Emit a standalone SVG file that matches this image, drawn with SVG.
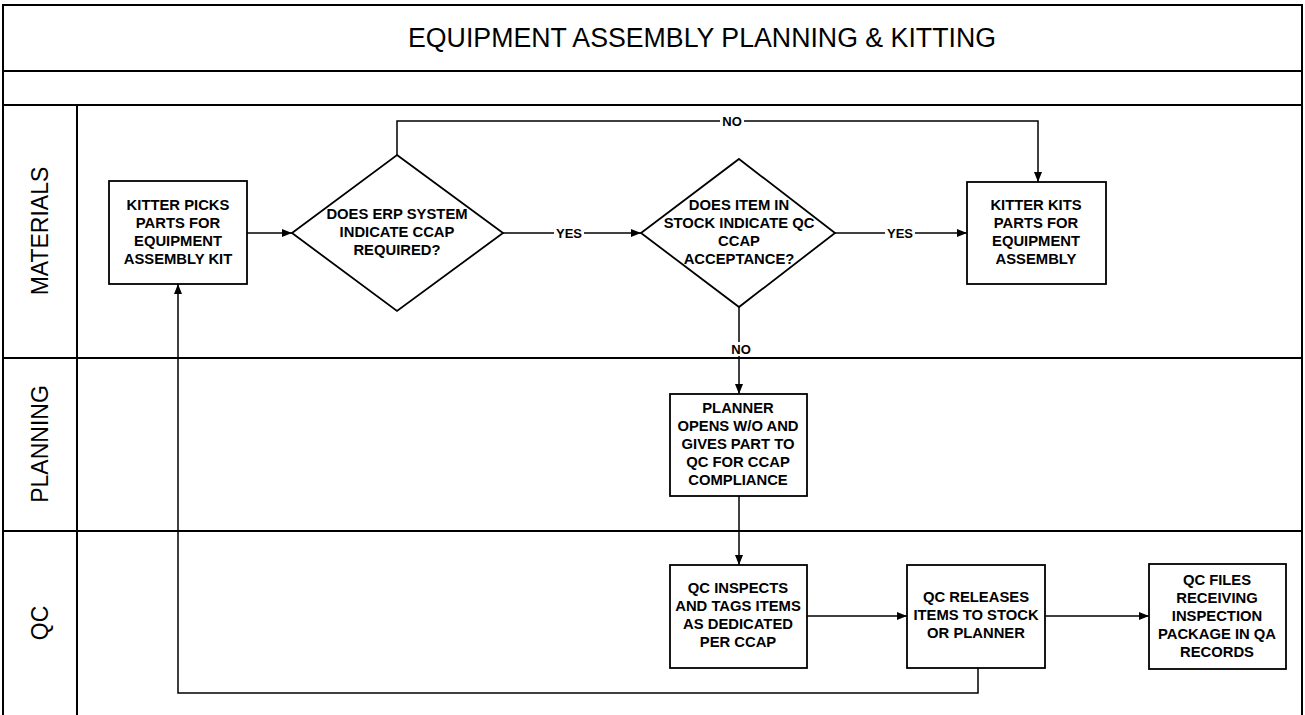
<svg xmlns="http://www.w3.org/2000/svg" width="1305" height="715" viewBox="0 0 1305 715">
<defs>
<marker id="ah" viewBox="0 0 10 8" refX="10" refY="4" markerWidth="10" markerHeight="8" markerUnits="userSpaceOnUse" orient="auto">
<path d="M0,0 L10,4 L0,8 Z" fill="#000"/>
</marker>
<style>
.frame{fill:none;stroke:#000;stroke-width:2}
.box{fill:#fff;stroke:#000;stroke-width:1.8}
.t{font-family:"Liberation Sans",Arial,sans-serif;font-weight:bold;font-size:14.8px;text-anchor:middle;fill:#000}
.lane{font-family:"Liberation Sans",Arial,sans-serif;font-size:23px;text-anchor:middle;fill:#000}
.title{font-family:"Liberation Sans",Arial,sans-serif;font-size:27px;text-anchor:middle;fill:#000}
.c{fill:none;stroke:#000;stroke-width:1.5}
.lbl{font-family:"Liberation Sans",Arial,sans-serif;font-weight:bold;font-size:13px;text-anchor:middle;fill:#000}
.lb{fill:#fff}
</style>
</defs>
<rect width="1305" height="715" fill="#fff"/>
<g id="frame">
<path class="frame" d="M3,720 V5 H1302 V720"/>
<line class="frame" x1="3" y1="71" x2="1302" y2="71"/>
<line class="frame" x1="3" y1="105" x2="1302" y2="105"/>
<line class="frame" x1="3" y1="358" x2="1302" y2="358"/>
<line class="frame" x1="3" y1="531" x2="1302" y2="531"/>
<line class="frame" x1="77" y1="105" x2="77" y2="720"/>
<text class="title" x="702" y="47" textLength="588" lengthAdjust="spacingAndGlyphs">EQUIPMENT ASSEMBLY PLANNING &amp; KITTING</text>
</g>
<g id="lanes">
<text class="lane" transform="translate(48,231) rotate(-90)">MATERIALS</text>
<text class="lane" transform="translate(48,444) rotate(-90)">PLANNING</text>
<text class="lane" transform="translate(48,623) rotate(-90)">QC</text>
</g>
<g id="connectors">
<line class="c" x1="247" y1="233" x2="292" y2="233" marker-end="url(#ah)"/>
<line class="c" x1="503" y1="233" x2="641" y2="233" marker-end="url(#ah)"/>
<rect class="lb" x="554" y="226" width="30" height="14"/>
<text class="lbl" x="569" y="238">YES</text>
<line class="c" x1="835" y1="233" x2="967" y2="233" marker-end="url(#ah)"/>
<rect class="lb" x="885" y="226" width="30" height="14"/>
<text class="lbl" x="900" y="238">YES</text>
<path class="c" d="M397,155 V121 H1038 V182" marker-end="url(#ah)"/>
<rect class="lb" x="720" y="114" width="24" height="14"/>
<text class="lbl" x="732" y="126">NO</text>
<path class="c" d="M739,307 V394" marker-end="url(#ah)"/>
<rect class="lb" x="729" y="342" width="24" height="14"/>
<text class="lbl" x="741" y="354">NO</text>
<line class="c" x1="739" y1="496" x2="739" y2="565" marker-end="url(#ah)"/>
<line class="c" x1="807" y1="616" x2="907" y2="616" marker-end="url(#ah)"/>
<line class="c" x1="1045" y1="616" x2="1149" y2="616" marker-end="url(#ah)"/>
<path class="c" d="M978,668 V693 H178 V284" marker-end="url(#ah)"/>
</g>
<g id="kitter-picks">
<rect class="box" x="109" y="181" width="138" height="103"/>
<text class="t"><tspan x="178" y="210">KITTER PICKS</tspan><tspan x="178" y="228">PARTS FOR</tspan><tspan x="178" y="246">EQUIPMENT</tspan><tspan x="178" y="264">ASSEMBLY KIT</tspan></text>
</g>
<g id="erp-decision">
<polygon class="box" points="397,155 503,233 397,311 292,233"/>
<text class="t"><tspan x="397" y="219">DOES ERP SYSTEM</tspan><tspan x="397" y="237">INDICATE CCAP</tspan><tspan x="397" y="255">REQUIRED?</tspan></text>
</g>
<g id="stock-decision">
<polygon class="box" points="739,159 835,233 739,307 641,233"/>
<text class="t"><tspan x="739" y="210">DOES ITEM IN</tspan><tspan x="739" y="228">STOCK INDICATE QC</tspan><tspan x="739" y="246">CCAP</tspan><tspan x="739" y="264">ACCEPTANCE?</tspan></text>
</g>
<g id="kitter-kits">
<rect class="box" x="967" y="182" width="139" height="102"/>
<text class="t"><tspan x="1036" y="210">KITTER KITS</tspan><tspan x="1036" y="228">PARTS FOR</tspan><tspan x="1036" y="246">EQUIPMENT</tspan><tspan x="1036" y="264">ASSEMBLY</tspan></text>
</g>
<g id="planner">
<rect class="box" x="670" y="394" width="137" height="102"/>
<text class="t"><tspan x="738" y="413">PLANNER</tspan><tspan x="738" y="431">OPENS W/O AND</tspan><tspan x="738" y="449">GIVES PART TO</tspan><tspan x="738" y="467">QC FOR CCAP</tspan><tspan x="738" y="485">COMPLIANCE</tspan></text>
</g>
<g id="qc-inspects">
<rect class="box" x="670" y="565" width="137" height="103"/>
<text class="t"><tspan x="738" y="593">QC INSPECTS</tspan><tspan x="738" y="611">AND TAGS ITEMS</tspan><tspan x="738" y="629">AS DEDICATED</tspan><tspan x="738" y="647">PER CCAP</tspan></text>
</g>
<g id="qc-releases">
<rect class="box" x="907" y="565" width="138" height="103"/>
<text class="t"><tspan x="976" y="602">QC RELEASES</tspan><tspan x="976" y="620">ITEMS TO STOCK</tspan><tspan x="976" y="638">OR PLANNER</tspan></text>
</g>
<g id="qc-files">
<rect class="box" x="1149" y="564" width="137" height="105"/>
<text class="t"><tspan x="1217" y="585">QC FILES</tspan><tspan x="1217" y="603">RECEIVING</tspan><tspan x="1217" y="621">INSPECTION</tspan><tspan x="1217" y="639">PACKAGE IN QA</tspan><tspan x="1217" y="657">RECORDS</tspan></text>
</g>
</svg>
